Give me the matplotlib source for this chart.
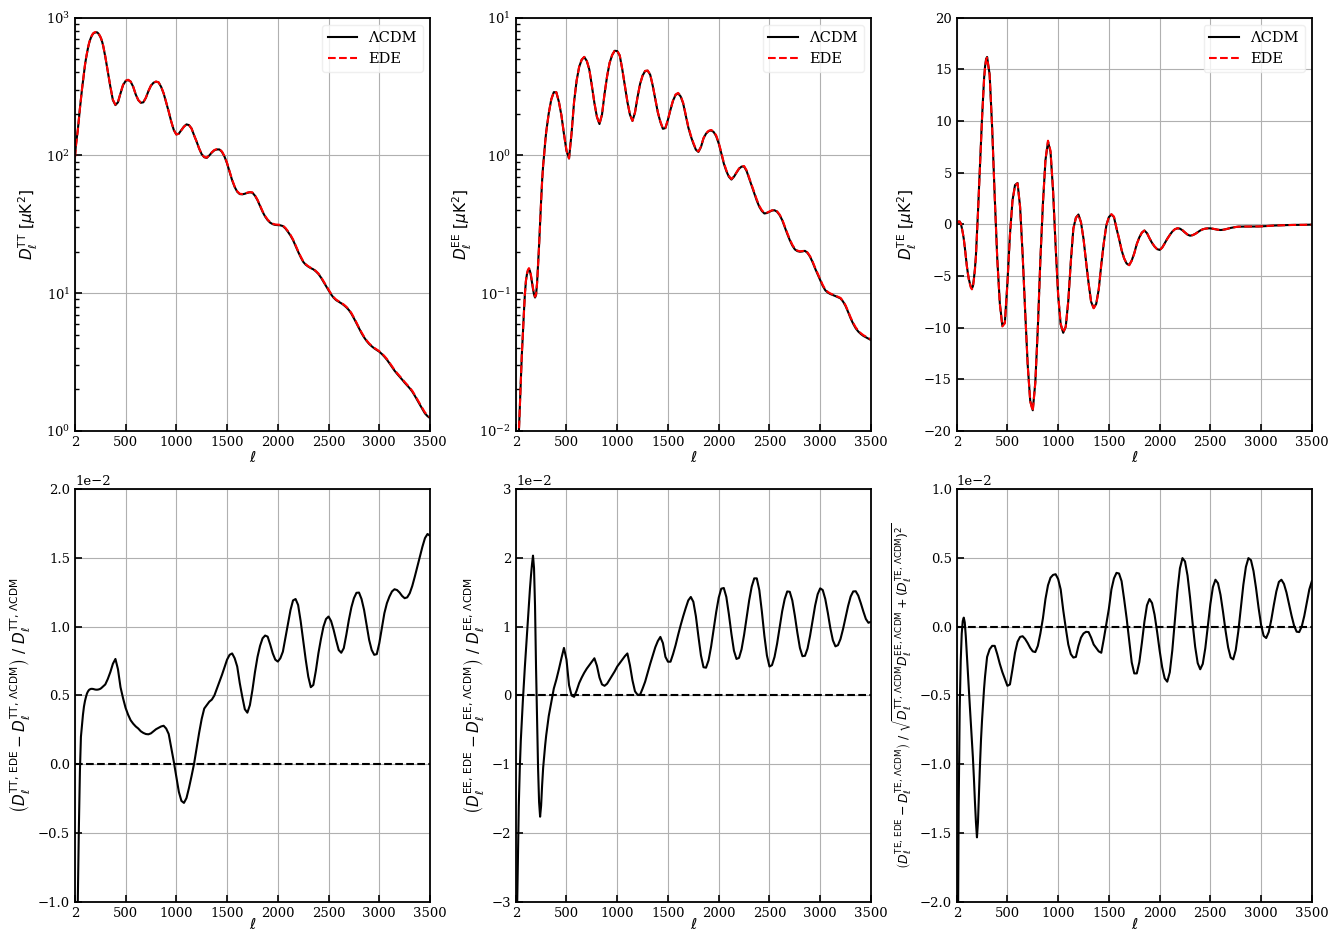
import numpy as np
import matplotlib
matplotlib.use('Agg')
import matplotlib.pyplot as plt
from matplotlib.ticker import MultipleLocator

plt.rcParams['font.family'] = 'serif'
plt.rcParams['mathtext.fontset'] = 'dejavusans'

# multipoles: fine steps at low l, then every 25
ell = np.array([2] + list(range(10, 300, 10)) + list(range(300, 3501, 25)))

# LCDM spectra D_l [muK^2]
dl_tt = np.array([
    100, 118, 135, 155, 185, 219, 258, 300, 345, 400, 453, 505, 555, 605, 650,
    688, 720, 745, 765, 775, 780, 783, 782, 770, 750, 728, 700, 665, 620, 570,
    521, 405, 315, 252, 232, 243, 282, 324,
    347, 353, 343, 315, 277, 252, 241, 243, 262, 293, 321, 337, 343, 339, 315, 282, 243, 208, 176, 153,
    142, 144, 153, 162, 168, 166, 157, 140, 126, 112, 102, 97, 96, 100, 105, 109, 110.5, 110.5, 106, 98,
    87.5, 76, 66, 59, 54.5, 52.4, 52.2, 52.7, 53.5, 54, 53.6, 51, 47.3, 43, 39, 36, 33.9, 32.5, 31.7, 31.3,
    31.2, 31.1, 30.7, 29.5, 27.9, 26.2, 24.3, 22.0, 20.0, 18.3, 16.9, 16.1, 15.6, 15.2, 14.9, 14.4, 13.8, 13.0, 12.1, 11.3,
    10.5, 9.8, 9.27, 8.9, 8.67, 8.45, 8.2, 7.9, 7.55, 7.1, 6.57, 6.05, 5.55, 5.13, 4.78, 4.5, 4.28, 4.12, 3.98, 3.87,
    3.76, 3.62, 3.46, 3.29, 3.1, 2.91, 2.74, 2.6, 2.48, 2.36, 2.24, 2.14, 2.04, 1.93, 1.8, 1.67, 1.55, 1.44, 1.34, 1.28,
    1.24])

dl_ee = np.array([
    0.003, 0.0045, 0.0065, 0.0095, 0.015, 0.0235, 0.036, 0.05, 0.072, 0.098, 0.122, 0.137, 0.146, 0.15, 0.145,
    0.133, 0.12, 0.107, 0.098, 0.093, 0.097, 0.118, 0.16, 0.224, 0.33, 0.47, 0.66, 0.85, 1.02, 1.25,
    1.48, 2.02, 2.55, 2.88, 2.87, 2.45, 1.95, 1.43,
    1.08, 0.95, 1.45, 2.46, 3.5, 4.4, 4.95, 5.18, 4.85, 4.2, 3.2, 2.4, 1.9, 1.69, 1.98, 2.8, 3.75, 4.7, 5.35, 5.75,
    5.72, 5.3, 4.2, 3.2, 2.45, 1.98, 1.78, 2.05, 2.65, 3.3, 3.8, 4.1, 4.12, 3.85, 3.2, 2.55, 2.05, 1.75, 1.56, 1.58,
    1.82, 2.15, 2.5, 2.75, 2.82, 2.68, 2.38, 1.95, 1.6, 1.38, 1.22, 1.1, 1.06, 1.15, 1.33, 1.44, 1.5, 1.52, 1.48, 1.38,
    1.22, 1.04, 0.874, 0.77, 0.70, 0.668, 0.70, 0.75, 0.80, 0.83, 0.83, 0.77, 0.68, 0.6, 0.53, 0.47, 0.424, 0.395, 0.379, 0.382,
    0.39, 0.398, 0.40, 0.39, 0.369, 0.34, 0.303, 0.27, 0.243, 0.222, 0.208, 0.202, 0.20, 0.201, 0.203, 0.196, 0.184, 0.168, 0.151, 0.137,
    0.124, 0.113, 0.105, 0.101, 0.0986, 0.097, 0.0953, 0.0935, 0.0917, 0.087, 0.0807, 0.073, 0.0657, 0.06, 0.0556, 0.0527, 0.0506, 0.049, 0.0479, 0.0468,
    0.0457])

dl_te = np.array([
    0.1, 0.2, 0.28, 0.27, 0.1, -0.3, -0.8, -1.4, -2.2, -3.1, -4.0, -4.7, -5.3, -5.7, -6.05,
    -6.2, -6.0, -5.25, -4.3, -3.0, -1.0, 1.2, 3.5, 6.0, 8.3, 10.3, 12.3, 14.1, 15.3, 16.0,
    16.2, 14.5, 9.3, 2.7, -3.3, -7.6, -9.8, -9.5,
    -5.7, -1.0, 2.3, 3.8, 4.0, 1.7, -2.9, -8.4, -13.6, -17.1, -18.0, -15.3, -10.0, -3.4, 2.0, 6.2, 8.0, 7.0, 3.2, -2.1,
    -6.9, -9.7, -10.5, -9.9, -7.4, -3.6, -0.4, 0.65, 0.95, 0.2, -1.4, -3.6, -5.7, -7.5, -8.1, -7.7, -6.3, -3.9, -1.8, -0.1,
    0.7, 0.95, 0.7, -0.4, -1.4, -2.5, -3.3, -3.8, -3.95, -3.5, -2.8, -1.9, -1.26, -0.8, -0.6, -0.85, -1.35, -1.8, -2.15, -2.4,
    -2.48, -2.25, -1.84, -1.4, -1.03, -0.7, -0.48, -0.39, -0.42, -0.58, -0.8, -1.0, -1.1, -1.05, -0.93, -0.76, -0.6, -0.48, -0.42, -0.39,
    -0.39, -0.43, -0.48, -0.53, -0.55, -0.53, -0.48, -0.41, -0.35, -0.3, -0.26, -0.23, -0.22, -0.22, -0.22, -0.22, -0.22, -0.22, -0.21, -0.21,
    -0.2, -0.19, -0.17, -0.15, -0.13, -0.12, -0.11, -0.1, -0.1, -0.09, -0.08, -0.07, -0.06, -0.06, -0.06, -0.05, -0.05, -0.05, -0.04, -0.04,
    -0.03])

# EDE - LCDM residuals, in units of 1e-2
res_tt = np.array([
    -3.0, -2.4, -1.6, -0.95, -0.45, -0.05, 0.2, 0.28, 0.36, 0.42, 0.46, 0.49, 0.515, 0.53, 0.54,
    0.545, 0.548, 0.548, 0.547, 0.545, 0.543, 0.542, 0.542, 0.543, 0.545, 0.548, 0.553, 0.56, 0.566, 0.573,
    0.58, 0.62, 0.67, 0.73, 0.765, 0.69, 0.56, 0.48,
    0.41, 0.36, 0.32, 0.295, 0.275, 0.26, 0.24, 0.228, 0.22, 0.218, 0.225, 0.24, 0.255, 0.265, 0.275, 0.28, 0.26, 0.22, 0.12, 0.02,
    -0.09, -0.2, -0.265, -0.28, -0.245, -0.17, -0.085, 0.005, 0.12, 0.23, 0.33, 0.405, 0.43, 0.455, 0.47, 0.5, 0.55, 0.6, 0.65, 0.705,
    0.76, 0.795, 0.805, 0.77, 0.71, 0.59, 0.49, 0.4, 0.375, 0.43, 0.54, 0.67, 0.78, 0.86, 0.915, 0.935, 0.927, 0.87, 0.806, 0.76,
    0.746, 0.77, 0.818, 0.92, 1.024, 1.12, 1.19, 1.2, 1.157, 1.04, 0.903, 0.76, 0.637, 0.56, 0.576, 0.68, 0.806, 0.91, 1.0, 1.055,
    1.073, 1.04, 0.976, 0.9, 0.83, 0.81, 0.843, 0.94, 1.048, 1.14, 1.206, 1.245, 1.247, 1.2, 1.121, 1.01, 0.903, 0.83, 0.795, 0.8,
    0.879, 0.99, 1.097, 1.17, 1.218, 1.255, 1.271, 1.265, 1.247, 1.222, 1.206, 1.212, 1.242, 1.295, 1.363, 1.435, 1.508, 1.58, 1.642, 1.672,
    1.659])

res_ee = np.array([
    -4.0, -3.4, -2.5, -1.6, -1.05, -0.65, -0.35, -0.08, 0.18, 0.42, 0.65, 0.88, 1.1, 1.33, 1.55,
    1.74, 1.9, 2.03, 1.85, 1.3, 0.4, -0.3, -1.06, -1.55, -1.76, -1.6, -1.3, -1.05, -0.88, -0.72,
    -0.58, -0.3, -0.1, 0.1, 0.23, 0.38, 0.54, 0.69,
    0.52, 0.15, 0.0, -0.02, 0.07, 0.18, 0.26, 0.33, 0.39, 0.44, 0.49, 0.54, 0.43, 0.26, 0.16, 0.14, 0.17, 0.23, 0.29, 0.35,
    0.42, 0.47, 0.52, 0.57, 0.61, 0.44, 0.22, 0.06, 0.01, 0.01, 0.1, 0.2, 0.33, 0.46, 0.58, 0.7, 0.79, 0.85, 0.76, 0.56,
    0.49, 0.49, 0.6, 0.73, 0.88, 1.02, 1.15, 1.27, 1.38, 1.43, 1.36, 1.15, 0.856, 0.58, 0.41, 0.403, 0.51, 0.71, 0.96, 1.21,
    1.42, 1.55, 1.56, 1.43, 1.18, 0.895, 0.65, 0.53, 0.545, 0.67, 0.88, 1.13, 1.38, 1.58, 1.70, 1.70, 1.53, 1.22, 0.865, 0.58,
    0.42, 0.44, 0.56, 0.75, 0.99, 1.22, 1.40, 1.51, 1.505, 1.38, 1.16, 0.91, 0.69, 0.57, 0.576, 0.68, 0.866, 1.087, 1.305, 1.47,
    1.555, 1.53, 1.40, 1.20, 0.976, 0.80, 0.713, 0.73, 0.82, 0.964, 1.135, 1.30, 1.436, 1.51, 1.513, 1.45, 1.34, 1.22, 1.11, 1.055,
    1.07])

res_te = np.array([
    -3.0, -2.6, -1.3, -0.6, -0.25, -0.05, 0.04, 0.065, 0.03, -0.07, -0.2, -0.32, -0.45, -0.58, -0.7,
    -0.82, -0.95, -1.1, -1.27, -1.42, -1.53, -1.42, -1.2, -1.0, -0.82, -0.68, -0.56, -0.45, -0.36, -0.29,
    -0.22, -0.165, -0.14, -0.14, -0.2, -0.27, -0.33, -0.38,
    -0.43, -0.42, -0.31, -0.19, -0.11, -0.075, -0.07, -0.09, -0.12, -0.155, -0.18, -0.185, -0.14, -0.05, 0.06, 0.2, 0.3, 0.355, 0.375, 0.38,
    0.345, 0.27, 0.12, -0.01, -0.13, -0.2, -0.225, -0.22, -0.14, -0.08, -0.05, -0.038, -0.04, -0.08, -0.13, -0.155, -0.18, -0.19, -0.09, 0.02,
    0.13, 0.27, 0.35, 0.39, 0.385, 0.33, 0.2, 0.06, -0.1, -0.26, -0.34, -0.34, -0.258, -0.119, 0.034, 0.154, 0.2, 0.171, 0.087, -0.037,
    -0.174, -0.295, -0.376, -0.4, -0.332, -0.172, 0.041, 0.257, 0.423, 0.497, 0.473, 0.37, 0.209, 0.024, -0.146, -0.265, -0.31, -0.271, -0.157, 0.002,
    0.164, 0.287, 0.34, 0.315, 0.23, 0.105, -0.032, -0.151, -0.225, -0.238, -0.17, -0.036, 0.134, 0.304, 0.433, 0.497, 0.482, 0.403, 0.279, 0.136,
    0.011, -0.067, -0.083, -0.04, 0.048, 0.156, 0.255, 0.324, 0.34, 0.31, 0.247, 0.164, 0.079, 0.006, -0.037, -0.04, 0.0, 0.076, 0.173, 0.27,
    0.33])

# EDE spectra built from the residuals
ede_tt = dl_tt * (1 + 1e-2 * res_tt)
ede_ee = dl_ee * (1 + 1e-2 * res_ee)
ede_te = dl_te + 1e-2 * res_te * np.sqrt(dl_tt * dl_ee + dl_te**2)

xticks = [2, 500, 1000, 1500, 2000, 2500, 3000, 3500]

fig, axes = plt.subplots(2, 3, figsize=(13.4, 9.3), dpi=100)
fig.subplots_adjust(left=0.056, right=0.979, bottom=0.030, top=0.981,
                    wspace=0.242, hspace=0.14)


def style(ax, pad):
    ax.set_xlim(2, 3500)
    ax.set_xticks(xticks)
    ax.grid(True, which='major', color='#b0b0b0', lw=0.8)
    ax.tick_params(which='both', direction='in', top=False, right=False,
                   labelsize=9.5)
    ax.tick_params(which='major', length=5, width=1.2)
    ax.tick_params(which='minor', length=3, width=1.0)
    for s in ax.spines.values():
        s.set_linewidth(1.3)
    ax.set_xlabel(r'$\ell$', fontsize=11, labelpad=pad)


top = [
    (dl_tt, ede_tt, 'TT', 'log', (1, 1e3)),
    (dl_ee, ede_ee, 'EE', 'log', (1e-2, 10)),
    (dl_te, ede_te, 'TE', 'linear', (-20, 20)),
]
for ax, (lcdm, ede, spec, scale, ylim) in zip(axes[0], top):
    ax.plot(ell, lcdm, color='k', lw=1.5, label='ΛCDM')
    ax.plot(ell, ede, color='r', ls='--', lw=1.5, label='EDE')
    ax.set_yscale(scale)
    ax.set_ylim(*ylim)
    if scale == 'linear':
        ax.yaxis.set_major_locator(MultipleLocator(5))
    ax.set_ylabel(r'$D_\ell^{\rm %s}\ [\mu{\rm K}^2]$' % spec, fontsize=11)
    leg = ax.legend(loc='upper right', fontsize=10.5)
    leg.get_frame().set_edgecolor('0.92')
    style(ax, 1)

bottom = [
    (res_tt, (-1e-2, 2e-2), 0.5e-2,
     r'$\left(D_\ell^{\rm TT,\,EDE} - D_\ell^{\rm TT,\,\Lambda CDM}\right)\ /\ D_\ell^{\rm TT,\,\Lambda CDM}$', 11),
    (res_ee, (-3e-2, 3e-2), 1e-2,
     r'$\left(D_\ell^{\rm EE,\,EDE} - D_\ell^{\rm EE,\,\Lambda CDM}\right)\ /\ D_\ell^{\rm EE,\,\Lambda CDM}$', 11),
    (res_te, (-2e-2, 1e-2), 0.5e-2,
     r'$\left(D_\ell^{\rm TE,\,EDE} - D_\ell^{\rm TE,\,\Lambda CDM}\right)\ /\ '
     r'\sqrt{D_\ell^{\rm TT,\,\Lambda CDM} D_\ell^{\rm EE,\,\Lambda CDM} + (D_\ell^{\rm TE,\,\Lambda CDM})^2}$', 9),
]
for ax, (res, ylim, step, label, fs) in zip(axes[1], bottom):
    ax.plot(ell, 1e-2 * res, color='k', lw=1.5)
    ax.axhline(0, color='k', ls='--', lw=1.5)
    ax.set_ylim(*ylim)
    ax.yaxis.set_major_locator(MultipleLocator(step))
    ax.ticklabel_format(axis='y', style='sci', scilimits=(0, 0))
    ax.yaxis.get_offset_text().set_fontsize(9.5)
    ax.set_ylabel(label, fontsize=fs)
    style(ax, -2)

fig.savefig('out.png', dpi=100)
